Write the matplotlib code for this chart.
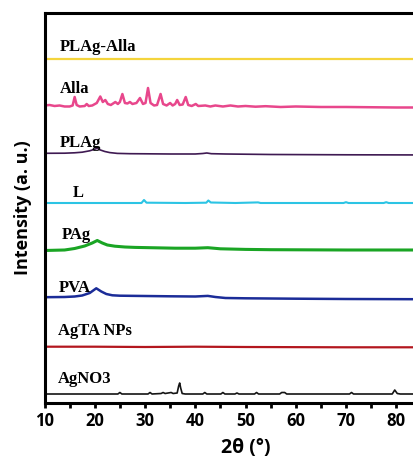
#!/usr/bin/env python

"""
Stacked XRD patterns of the Ag / PVA / Alla samples
"""

import matplotlib as mpl
mpl.use('Agg')
import matplotlib.pyplot as plt

mpl.rcParams['font.family'] = 'Open Sans'
mpl.rcParams['axes.linewidth'] = 2.2

## Diffraction patterns: 2theta (deg) and intensity above each trace's baseline (a.u.)
tt_plag_alla = [10, 90]
i_plag_alla = [0, 0]

tt_alla = [10, 11, 12, 13, 14, 15, 15.6, 16.0, 16.4, 17, 18, 18.4, 18.8, 19.5, 20.4,
           21.1, 21.6, 22.1, 22.6, 23.2, 24.1, 24.6, 25.0, 25.5, 26.0, 26.5, 27.0,
           27.5, 28.3, 29.0, 29.6, 30.1, 30.6, 31.1, 31.8, 32.4, 33.1, 33.6, 34.3,
           35.0, 35.5, 36.0, 36.4, 36.9, 37.5, 38.1, 38.6, 39.3, 40.1, 40.6, 42, 43,
           44, 45.5, 47, 48.5, 50, 52, 54, 57, 60, 65, 70, 80, 90]
i_alla = [1.5, 2.0, 1.0, 1.5, 0.5, 0.5, 1.5, 10, 2, 0.5, 1, 3, 1, 1.5, 4,
          10.5, 5, 7, 3, 2, 5, 3, 5, 13, 4, 3.5, 5,
          3, 4, 9, 3, 4, 19, 4, 1.5, 2, 13, 3, 1.5,
          4, 1.5, 3, 7, 2, 2.5, 10, 2, 1, 3, 1, 1.5, 0.5,
          1.5, 0.5, 1.5, 0.5, 1, 0.3, 0.8, 0, 0.5, 0, 0, -0.5, -0.5]

tt_plag = [10, 14, 16, 17.5, 19, 20, 20.5, 21, 22, 23, 24.5, 27, 30, 35, 40,
           41.5, 42.3, 43.2, 46, 55, 70, 90]
i_plag = [0.7, 0.8, 1.2, 1.8, 3.2, 4.8, 5.7, 4.2, 2.5, 1.4, 0.6, 0.3, 0.2, 0, 0,
          0.5, 1, 0.3, 0, -0.5, -0.8, -1]

tt_l = [10, 29.3, 29.8, 30.3, 38, 42.2, 42.6, 43.1, 48, 52.5, 53, 69.5, 70, 70.5,
        77.5, 78, 78.5, 90]
i_l = [0, 0, 3, 0.3, 0, 0.3, 2.5, 0.5, 0, 0.6, 0, 0, 0.8, 0, 0, 0.8, 0, 0]

tt_pag = [10, 14, 16, 18, 19.5, 20.5, 21.5, 22.5, 24, 26, 28, 32, 36, 40, 42.5,
          45, 50, 55, 60, 70, 90]
i_pag = [-0.5, 0, 1.5, 4, 7, 9.5, 7, 5, 3.8, 3, 2.6, 2.2, 1.8, 1.8, 2.3,
         1.2, 0.6, 0.3, 0.2, 0, 0]

tt_pva = [10, 14, 16, 17.5, 19, 20.3, 21.3, 22.3, 23.5, 25, 30, 35, 40, 42.5, 44,
          46, 50, 60, 70, 90]
i_pva = [0.3, 0.5, 1, 2, 4.5, 9.2, 6, 3.5, 2.2, 1.8, 1.5, 1.2, 1, 1.6, 0.5,
         -0.5, -0.8, -1.2, -1.5, -1.8]

tt_agta = [10, 20, 30, 40, 50, 70, 90]
i_agta = [0.3, 0.3, 0, 0.3, 0, -0.3, -0.3]

tt_agno3 = [10, 24.6, 25.0, 25.4, 30.6, 31.0, 31.4, 33.2, 33.6, 34.0, 34.6, 35.2,
            35.6, 36.4, 36.7, 36.9, 37.1, 37.4, 38, 41.5, 41.9, 42.3, 45.1, 45.5,
            45.9, 47.9, 48.3, 48.7, 51.8, 52.2, 52.6, 56.8, 57.2, 57.8, 58.2, 70.7,
            71.1, 71.5, 79.2, 79.7, 80.2, 80.8, 90]
i_agno3 = [0, 0, 1.5, 0, 0, 1.5, 0, 0.5, 1.5, 0.5, 1, 1.5,
           0.5, 1, 8, 11, 6, 0.5, 0, 0, 1.5, 0, 0, 1.5,
           0, 0, 1, 0, 0, 1.5, 0, 0, 1.5, 1.5, 0, 0,
           1.5, 0, 0, 4, 0.5, 0, 0]

names = ['PLAg-Alla', 'Alla', 'PLAg', 'L', 'PAg', 'PVA', 'AgTA NPs', 'AgNO3']
two_theta = [tt_plag_alla, tt_alla, tt_plag, tt_l, tt_pag, tt_pva, tt_agta, tt_agno3]
intensity = [i_plag_alla, i_alla, i_plag, i_l, i_pag, i_pva, i_agta, i_agno3]

xtick_major = [10, 20, 30, 40, 50, 60, 70, 80]
xtick_minor = [15, 25, 35, 45, 55, 65, 75, 85]

# vertical stacking of the traces
offsets = [344, 296, 249, 200, 153, 105.5, 56, 9]
colors = ['#f4d43c', '#e8478c', '#3f1a52', '#2cc4e4', '#1aa524', '#1b2c98', '#b3161e', '#141414']
widths = [1.6, 1.8, 1.2, 1.5, 2.2, 1.8, 1.6, 1.2]

# label anchor (2theta, height) for each trace name
label_x = [13.1, 13.1, 13.1, 15.7, 13.4, 12.9, 12.7, 12.7]
label_y = [352.3, 309.7, 256.3, 206.3, 164, 111.3, 68, 20.3]

fig = plt.figure(figsize=[4.14, 4.59], dpi=100)
ax = fig.add_axes([0.1075, 0.122, 0.971, 0.8497])

for k in range(len(names)):
    y = [v + offsets[k] for v in intensity[k]]
    ax.plot(two_theta[k], y, color=colors[k], linewidth=widths[k],
            solid_joinstyle='round')
    ax.text(label_x[k], label_y[k], names[k], family='Liberation Serif',
            fontweight='bold', fontsize=12, va='baseline', ha='left')

ax.set_xlim([10, 90])
ax.set_ylim([0, 390])
ax.spines['right'].set_visible(False)

ax.set_xticks(xtick_major)
ax.set_xticks(xtick_minor, minor=True)
ax.tick_params(axis='x', which='both', direction='out', length=3.5, width=2,
               labelsize=12, pad=3)
ax.set_yticks([])
for lab in ax.get_xticklabels():
    lab.set_fontweight('bold')

ax.set_xlabel(u'2\u03b8 (\u00b0)', fontsize=14, fontweight='bold', labelpad=6)
ax.set_ylabel('Intensity (a. u.)', fontsize=13, fontweight='bold', labelpad=9)

plt.savefig('out.png', dpi=100)
